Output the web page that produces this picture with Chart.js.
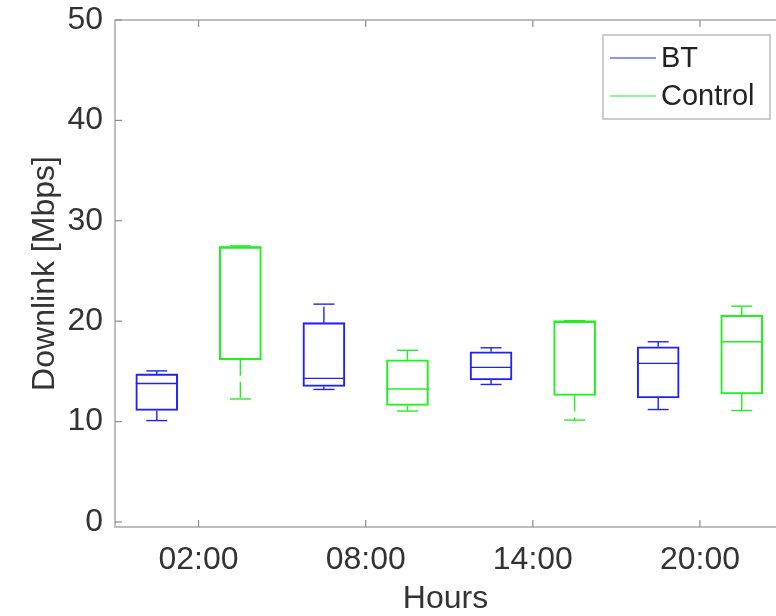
<!DOCTYPE html>
<html>
<head>
<meta charset="utf-8">
<script src="https://cdn.jsdelivr.net/npm/chart.js@4/dist/chart.umd.min.js"></script>
<style>
	html, body { margin: 0; padding: 0; background: #fff; overflow: hidden; }
</style>
</head>
<body>
<canvas id="myChart" width="776" height="616"></canvas>
<script>
// hours on the axis, one pair of boxes for each
var hours = ['02:00', '08:00', '14:00', '20:00'];
var seriesNames = ['BT', 'Control'];

// box positions on the x axis
var btPos = [1, 3, 5, 7];
var ctPos = [2, 4, 6, 8];

// BT (Mbps)
var btMin = [10.1, 13.2, 13.7, 11.2];
var btQ1  = [11.1, 13.5, 14.15, 12.35];
var btMed = [13.8, 14.3, 15.4, 15.8];
var btQ3  = [14.75, 19.85, 16.95, 17.45];
var btMax = [15.05, 21.7, 17.35, 17.95];

// Control (Mbps)
var ctMin = [12.25, 11.05, 10.15, 11.1];
var ctQ1  = [16.15, 11.6, 12.6, 12.75];
var ctMed = [27.4, 13.25, 20.0, 17.95];
var ctQ3  = [27.4, 16.15, 20.0, 20.6];
var ctMax = [27.5, 17.1, 20.05, 21.5];

var yTicks = [0, 10, 20, 30, 40, 50];

var azul  = '#2020ff';
var verde = '#20f020';
var cinza = '#bdbdbd';
var texto = '#333333';
var fonte = '"Liberation Sans", Arial, sans-serif';

function montarCaixas(pos, q1, q3) {
	return pos.map(function(x, i) { return { x: x, y: [q1[i], q3[i]] }; });
}

// whiskers, caps, medians, frame, inner ticks and legend
var extrasPlugin = {
	id: 'extras',
	afterDatasetsDraw: function(chart) {
		var c = chart.ctx;
		var xs = chart.scales.x, ys = chart.scales.y;
		var series = [
			{ pos: btPos, min: btMin, q1: btQ1, med: btMed, q3: btQ3, max: btMax, cor: azul },
			{ pos: ctPos, min: ctMin, q1: ctQ1, med: ctMed, q3: ctQ3, max: ctMax, cor: verde }
		];
		c.save();
		c.lineWidth = 1.4;
		series.forEach(function(s) {
			c.strokeStyle = s.cor;
			s.pos.forEach(function(p, i) {
				var xc = xs.getPixelForValue(p);
				var half = 21;
				var capHalf = 10.5;
				// median
				c.setLineDash([]);
				c.beginPath();
				c.moveTo(xc - half, ys.getPixelForValue(s.med[i]));
				c.lineTo(xc + half, ys.getPixelForValue(s.med[i]));
				c.stroke();
				// caps
				[s.max[i], s.min[i]].forEach(function(v) {
					c.beginPath();
					c.moveTo(xc - capHalf, ys.getPixelForValue(v));
					c.lineTo(xc + capHalf, ys.getPixelForValue(v));
					c.stroke();
				});
				// whiskers (dashed)
				c.setLineDash([16, 6]);
				c.beginPath();
				c.moveTo(xc, ys.getPixelForValue(s.q3[i]));
				c.lineTo(xc, ys.getPixelForValue(s.max[i]));
				c.stroke();
				c.beginPath();
				c.moveTo(xc, ys.getPixelForValue(s.q1[i]));
				c.lineTo(xc, ys.getPixelForValue(s.min[i]));
				c.stroke();
			});
		});
		c.setLineDash([]);

		var area = chart.chartArea;
		// top frame line
		c.strokeStyle = cinza;
		c.lineWidth = 2;
		c.beginPath();
		c.moveTo(area.left, area.top);
		c.lineTo(area.right, area.top);
		c.stroke();

		// inner ticks
		c.lineWidth = 1.2;
		c.strokeStyle = '#8c8c8c';
		yTicks.forEach(function(v) {
			var y = ys.getPixelForValue(v);
			c.beginPath();
			c.moveTo(area.left, y);
			c.lineTo(area.left + 7, y);
			c.stroke();
		});
		xs.ticks.forEach(function(t) {
			var x = xs.getPixelForValue(t.value);
			c.beginPath();
			c.moveTo(x, area.bottom);
			c.lineTo(x, area.bottom - 7);
			c.moveTo(x, area.top);
			c.lineTo(x, area.top + 7);
			c.stroke();
		});

		// legend
		var lx = 603, ly = 35, lw = 167, lh = 84;
		c.fillStyle = '#ffffff';
		c.fillRect(lx, ly, lw, lh);
		c.strokeStyle = cinza;
		c.lineWidth = 1.5;
		c.strokeRect(lx, ly, lw, lh);
		c.font = '29px ' + fonte;
		c.textAlign = 'left';
		c.textBaseline = 'middle';
		var cores = [azul, verde];
		seriesNames.forEach(function(nome, i) {
			var yy = ly + 23 + i * 38;
			c.strokeStyle = cores[i];
			c.lineWidth = 1.2;
			c.beginPath();
			c.moveTo(lx + 7, yy);
			c.lineTo(lx + 53, yy);
			c.stroke();
			c.fillStyle = '#222222';
			c.fillText(nome, lx + 58, yy + 1);
		});
		c.restore();
	}
};

var myChart = new Chart('myChart', {
	type: 'bar',
	data: {
		datasets: [
			{
				label: seriesNames[0],
				data: montarCaixas(btPos, btQ1, btQ3),
				backgroundColor: 'rgba(0,0,0,0)',
				borderColor: azul,
				borderWidth: 1.4,
				borderSkipped: false,
				barThickness: 42
			},
			{
				label: seriesNames[1],
				data: montarCaixas(ctPos, ctQ1, ctQ3),
				backgroundColor: 'rgba(0,0,0,0)',
				borderColor: verde,
				borderWidth: 1.4,
				borderSkipped: false,
				barThickness: 42
			}
		]
	},
	options: {
		responsive: false,
		animation: false,
		grouped: false,
		layout: { padding: { top: 20, right: 0, left: 0, bottom: 0 } },
		plugins: {
			legend: { display: false },
			tooltip: { enabled: false }
		},
		scales: {
			x: {
				type: 'linear',
				min: 0.5,
				max: 8.41,
				offset: false,
				grid: { display: false, drawTicks: false },
				border: { display: true, color: cinza, width: 2 },
				afterBuildTicks: function(scale) {
					scale.ticks = hours.map(function(h, i) { return { value: 1.5 + 2 * i }; });
				},
				afterFit: function(scale) {
					scale.height = 89;
					scale.paddingLeft = 0;
					scale.paddingRight = 0;
				},
				ticks: {
					padding: 14,
					color: texto,
					font: { family: fonte, size: 32 },
					maxRotation: 0,
					autoSkip: false,
					callback: function(v) {
						var i = Math.round((v - 1.5) / 2);
						return hours[i];
					}
				},
				title: {
					display: true,
					text: 'Hours',
					color: texto,
					font: { family: fonte, size: 32, lineHeight: 1.07 },
					padding: 0
				}
			},
			y: {
				min: -0.5,
				max: 50,
				grid: { display: false, drawTicks: false },
				border: { display: true, color: cinza, width: 2 },
				afterBuildTicks: function(scale) {
					scale.ticks = yTicks.map(function(v) { return { value: v }; });
				},
				afterFit: function(scale) {
					scale.width = 115;
					scale.paddingTop = 0;
					scale.paddingBottom = 0;
				},
				ticks: {
					padding: 12,
					color: texto,
					font: { family: fonte, size: 32 }
				},
				title: {
					display: true,
					text: 'Downlink [Mbps]',
					color: texto,
					font: { family: fonte, size: 32, lineHeight: 2.8 },
					padding: 0
				}
			}
		}
	},
	plugins: [extrasPlugin]
});
</script>
</body>
</html>
